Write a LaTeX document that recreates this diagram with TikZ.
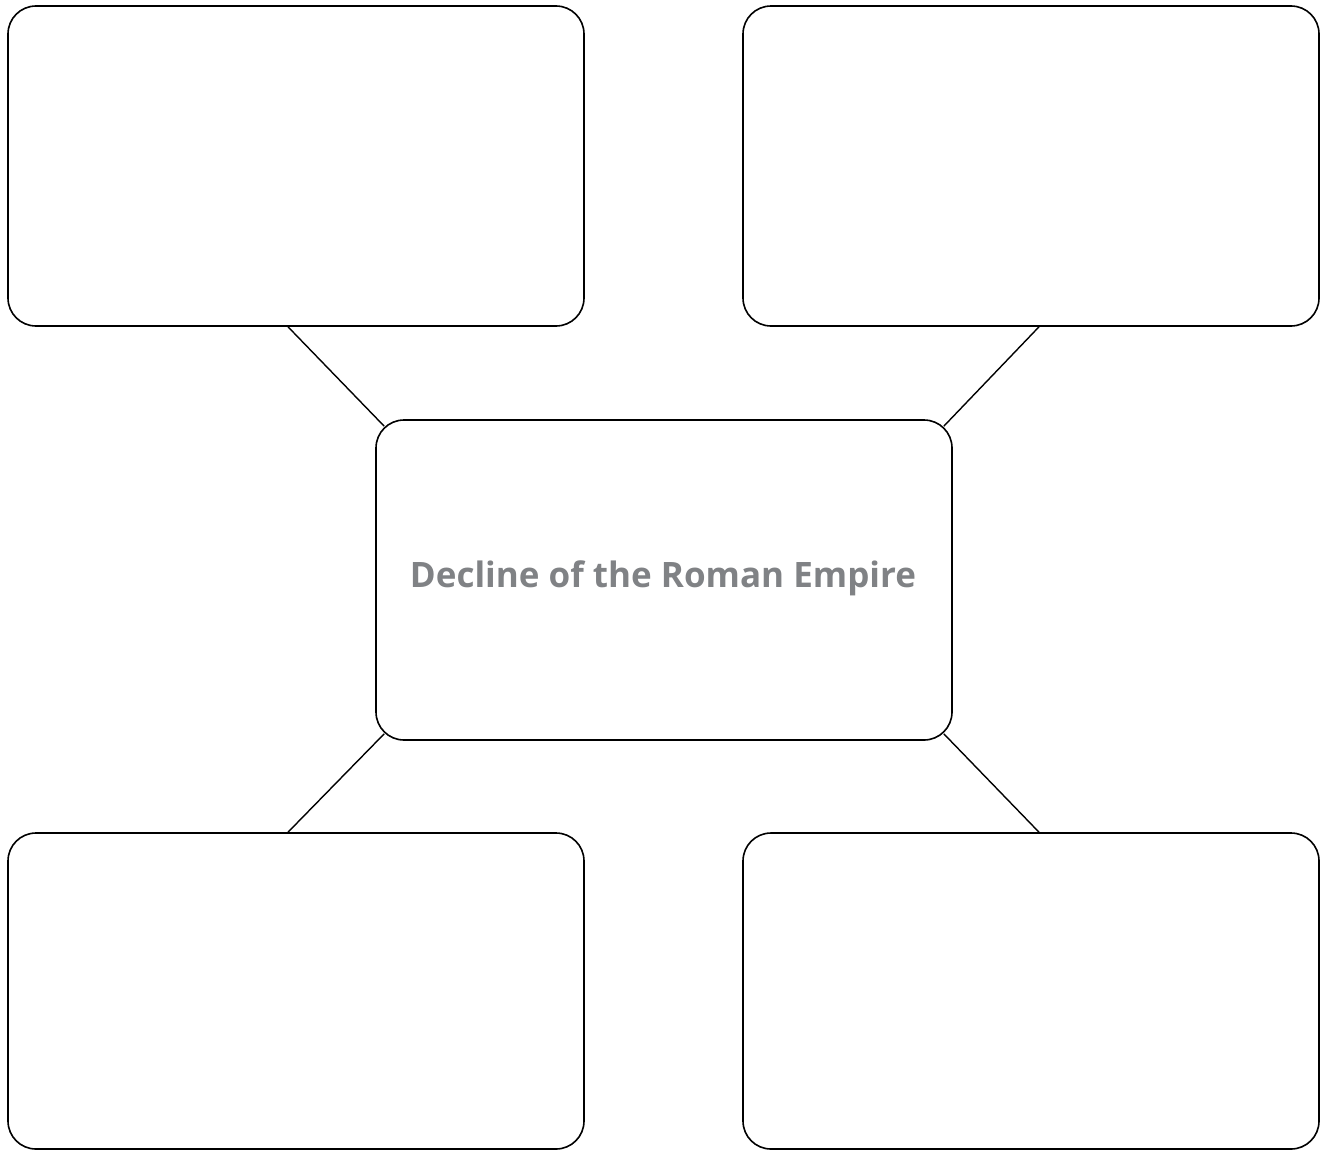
\documentclass[tikz,border=0pt]{standalone}
\usepackage{fontspec}
\setmainfont{Open Sans}
\usetikzlibrary{calc}
\definecolor{titlegray}{RGB}{128,130,133}

\begin{document}
\begin{tikzpicture}[x=1pt, y=-1pt,
    box/.style={draw=black, line width=1.6pt, rounded corners=28pt,
      minimum width=576pt, minimum height=320pt, inner sep=0pt},
    link/.style={draw=black, line width=1.4pt}]
    \useasboundingbox (0,0) rectangle (1324,1151);

    % Central topic
    \node[box] (ctr) at (664,580) {};
    \node[font=\bfseries\fontsize{35}{42}\selectfont, text=titlegray, anchor=base] (title) at (663,587) {Decline of the Roman Empire};

    % Outer boxes
    \node[box] (tl) at (296,166) {};
    \node[box] (tr) at (1031,166) {};
    \node[box, minimum height=316pt] (bl) at (296,991) {};
    \node[box, minimum height=316pt] (br) at (1031,991) {};

    % Links to the centre
    \draw[link] ($(tl.south)+(-8,0)$) -- ($(ctr.north west)+(9,7)$);
    \draw[link] ($(tr.south)+(8,0)$) -- ($(ctr.north east)+(-9,7)$);
    \draw[link] ($(bl.north)+(-8,0)$) -- ($(ctr.south west)+(9,-7)$);
    \draw[link] ($(br.north)+(8,0)$) -- ($(ctr.south east)+(-9,-7)$);
\end{tikzpicture}
\end{document}
